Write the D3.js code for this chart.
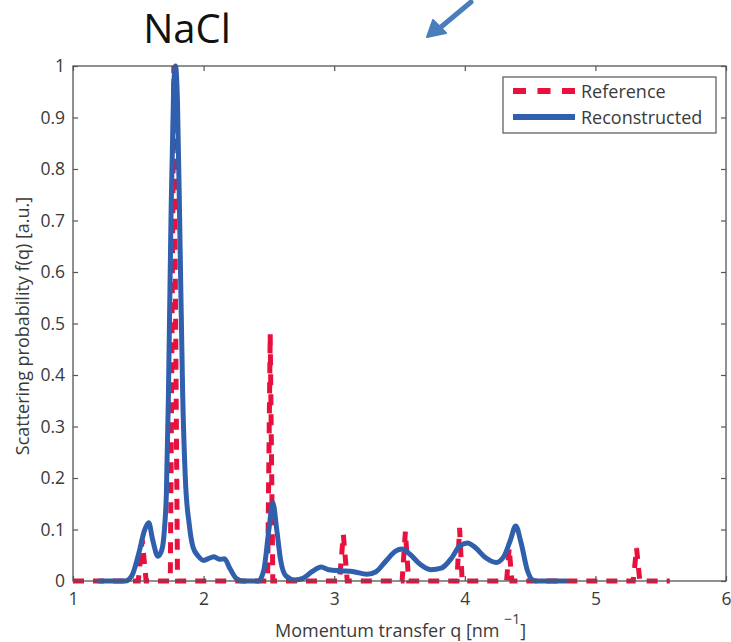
<!DOCTYPE html>
<html><head><meta charset="utf-8">
<script src="https://cdn.jsdelivr.net/npm/d3@7"></script>
<style>body{margin:0;background:#fff}svg{display:block}</style>
</head><body>
<svg id="c" width="731" height="642"></svg>
<script>
// ---- data ----
const title = "NaCl";
const xTicks = [1, 2, 3, 4, 5, 6];
const yTicks = [0, 0.1, 0.2, 0.3, 0.4, 0.5, 0.6, 0.7, 0.8, 0.9, 1];
const seriesNames = ["Reference", "Reconstructed"];
// Reference (dashed red): q, f(q)
const refQ = [1.00, 1.50, 1.53, 1.56, 1.745, 1.772, 1.80, 2.49, 2.51, 2.53, 3.04, 3.07, 3.10, 3.52, 3.545, 3.57, 3.94, 3.96, 3.98, 4.32, 4.34, 4.36, 5.29, 5.315, 5.34, 5.57];
const refF = [0, 0, 0.08, 0, 0, 1.0, 0, 0, 0.48, 0, 0, 0.09, 0, 0, 0.096, 0, 0, 0.103, 0, 0, 0.064, 0, 0, 0.064, 0, 0];
// Reconstructed (solid blue)
const recQ = [1.20, 1.40, 1.45, 1.50, 1.55, 1.58, 1.61, 1.65, 1.68, 1.70, 1.715, 1.73, 1.75, 1.77, 1.785, 1.80, 1.82, 1.84, 1.86, 1.89, 1.92, 1.96, 2.00, 2.05, 2.08, 2.12, 2.16, 2.20, 2.25, 2.30, 2.42, 2.46, 2.50, 2.53, 2.56, 2.59, 2.63, 2.70, 2.76, 2.83, 2.90, 2.96, 3.05, 3.15, 3.25, 3.32, 3.40, 3.47, 3.52, 3.58, 3.66, 3.74, 3.82, 3.90, 3.96, 4.02, 4.08, 4.16, 4.24, 4.30, 4.35, 4.39, 4.43, 4.48, 4.52, 4.56, 4.77];
const recF = [0, 0, 0.01, 0.05, 0.10, 0.113, 0.08, 0.048, 0.06, 0.10, 0.17, 0.35, 0.70, 0.95, 1.0, 0.93, 0.65, 0.36, 0.20, 0.11, 0.065, 0.048, 0.04, 0.045, 0.047, 0.042, 0.043, 0.025, 0.005, 0, 0, 0.02, 0.10, 0.152, 0.10, 0.04, 0.01, 0.002, 0.005, 0.018, 0.027, 0.022, 0.02, 0.018, 0.013, 0.018, 0.04, 0.058, 0.062, 0.052, 0.032, 0.022, 0.025, 0.045, 0.068, 0.074, 0.065, 0.045, 0.036, 0.048, 0.08, 0.107, 0.075, 0.02, 0.002, 0, 0];

const RED = "#e8103c", BLUE = "#2f5fad", AX = "#555", TXT = "#3a3a3a";
const svg = d3.select("#c");
const L = 73, R = 726, T = 66, B = 581;
const x = d3.scaleLinear().domain([1, 6]).range([L, R]);
const y = d3.scaleLinear().domain([0, 1]).range([B, T]);
const fnt = "Open Sans, sans-serif";

// title
svg.append("text").attr("x", 187).attr("y", 43).attr("text-anchor", "middle")
  .attr("font-family", fnt).attr("font-size", 40).attr("fill", "#111").text(title);

// arrow
const ag = svg.append("g");
ag.append("line").attr("x1", 471).attr("y1", 2).attr("x2", 441).attr("y2", 27)
  .attr("stroke", "#4a7ebb").attr("stroke-width", 5).attr("stroke-linecap", "round");
ag.append("path").attr("d", "M427,37 L433,20 L446,33 Z").attr("fill", "#4a7ebb")
  .attr("stroke", "#4a7ebb").attr("stroke-width", 2).attr("stroke-linejoin", "round");

// lines
const refData = refQ.map((q, i) => [q, refF[i]]);
const recData = recQ.map((q, i) => [q, recF[i]]);
svg.append("path").datum(refData)
  .attr("d", d3.line().x(d => x(d[0])).y(d => y(d[1])))
  .attr("fill", "none").attr("stroke", RED).attr("stroke-width", 5).attr("stroke-dasharray", "11,9");
svg.append("path").datum(recData)
  .attr("d", d3.line().x(d => x(d[0])).y(d => y(d[1])).curve(d3.curveMonotoneX))
  .attr("fill", "none").attr("stroke", BLUE).attr("stroke-width", 5).attr("stroke-linejoin", "round").attr("stroke-linecap", "round");

// axes box
svg.append("rect").attr("x", L).attr("y", T).attr("width", R - L).attr("height", B - T)
  .attr("fill", "none").attr("stroke", AX).attr("stroke-width", 1.3);
const xb = svg.append("g").attr("transform", `translate(0,${B})`)
  .call(d3.axisBottom(x).tickValues(xTicks).tickSize(-5).tickPadding(12).tickFormat(d3.format("d")));
const xt = svg.append("g").attr("transform", `translate(0,${T})`)
  .call(d3.axisTop(x).tickValues(xTicks).tickSize(-5).tickFormat(""));
const yl = svg.append("g").attr("transform", `translate(${L},0)`)
  .call(d3.axisLeft(y).tickValues(yTicks).tickSize(-5).tickPadding(8).tickFormat(d => d === 0 ? "0" : d === 1 ? "1" : d3.format(".1f")(d)));
const yr = svg.append("g").attr("transform", `translate(${R},0)`)
  .call(d3.axisRight(y).tickValues(yTicks).tickSize(-5).tickFormat(""));
[xb, xt, yl, yr].forEach(g => {
  g.select(".domain").remove();
  g.selectAll("line").attr("stroke", AX).attr("stroke-width", 1.2);
  g.selectAll("text").attr("font-family", fnt).attr("font-size", 17.5).attr("fill", TXT);
});

// axis labels
svg.append("text").attr("transform", "translate(29,326) rotate(-90)").attr("text-anchor", "middle")
  .attr("font-family", fnt).attr("font-size", 18).attr("fill", TXT).text("Scattering probability f(q) [a.u.]");
const xlab = svg.append("text").attr("x", 275).attr("y", 637)
  .attr("font-family", fnt).attr("font-size", 18).attr("fill", TXT);
xlab.append("tspan").text("Momentum transfer q [nm ");
xlab.append("tspan").attr("dy", -13).attr("font-size", 14).text("\u22121");
xlab.append("tspan").attr("dy", 13).text("]");

// legend
const lg = svg.append("g");
lg.append("rect").attr("x", 503).attr("y", 77).attr("width", 213).attr("height", 56)
  .attr("fill", "#fff").attr("stroke", AX).attr("stroke-width", 1.2);
lg.append("line").attr("x1", 513).attr("x2", 575).attr("y1", 91).attr("y2", 91)
  .attr("stroke", RED).attr("stroke-width", 6).attr("stroke-dasharray", "13,11.5");
lg.append("line").attr("x1", 513).attr("x2", 575).attr("y1", 117).attr("y2", 117)
  .attr("stroke", BLUE).attr("stroke-width", 6);
lg.selectAll("text.lt").data(seriesNames).join("text").attr("class", "lt")
  .attr("x", 581).attr("y", (d, i) => 97.5 + i * 26)
  .attr("font-family", fnt).attr("font-size", 18).attr("fill", TXT).text(d => d);
</script>
</body></html>
